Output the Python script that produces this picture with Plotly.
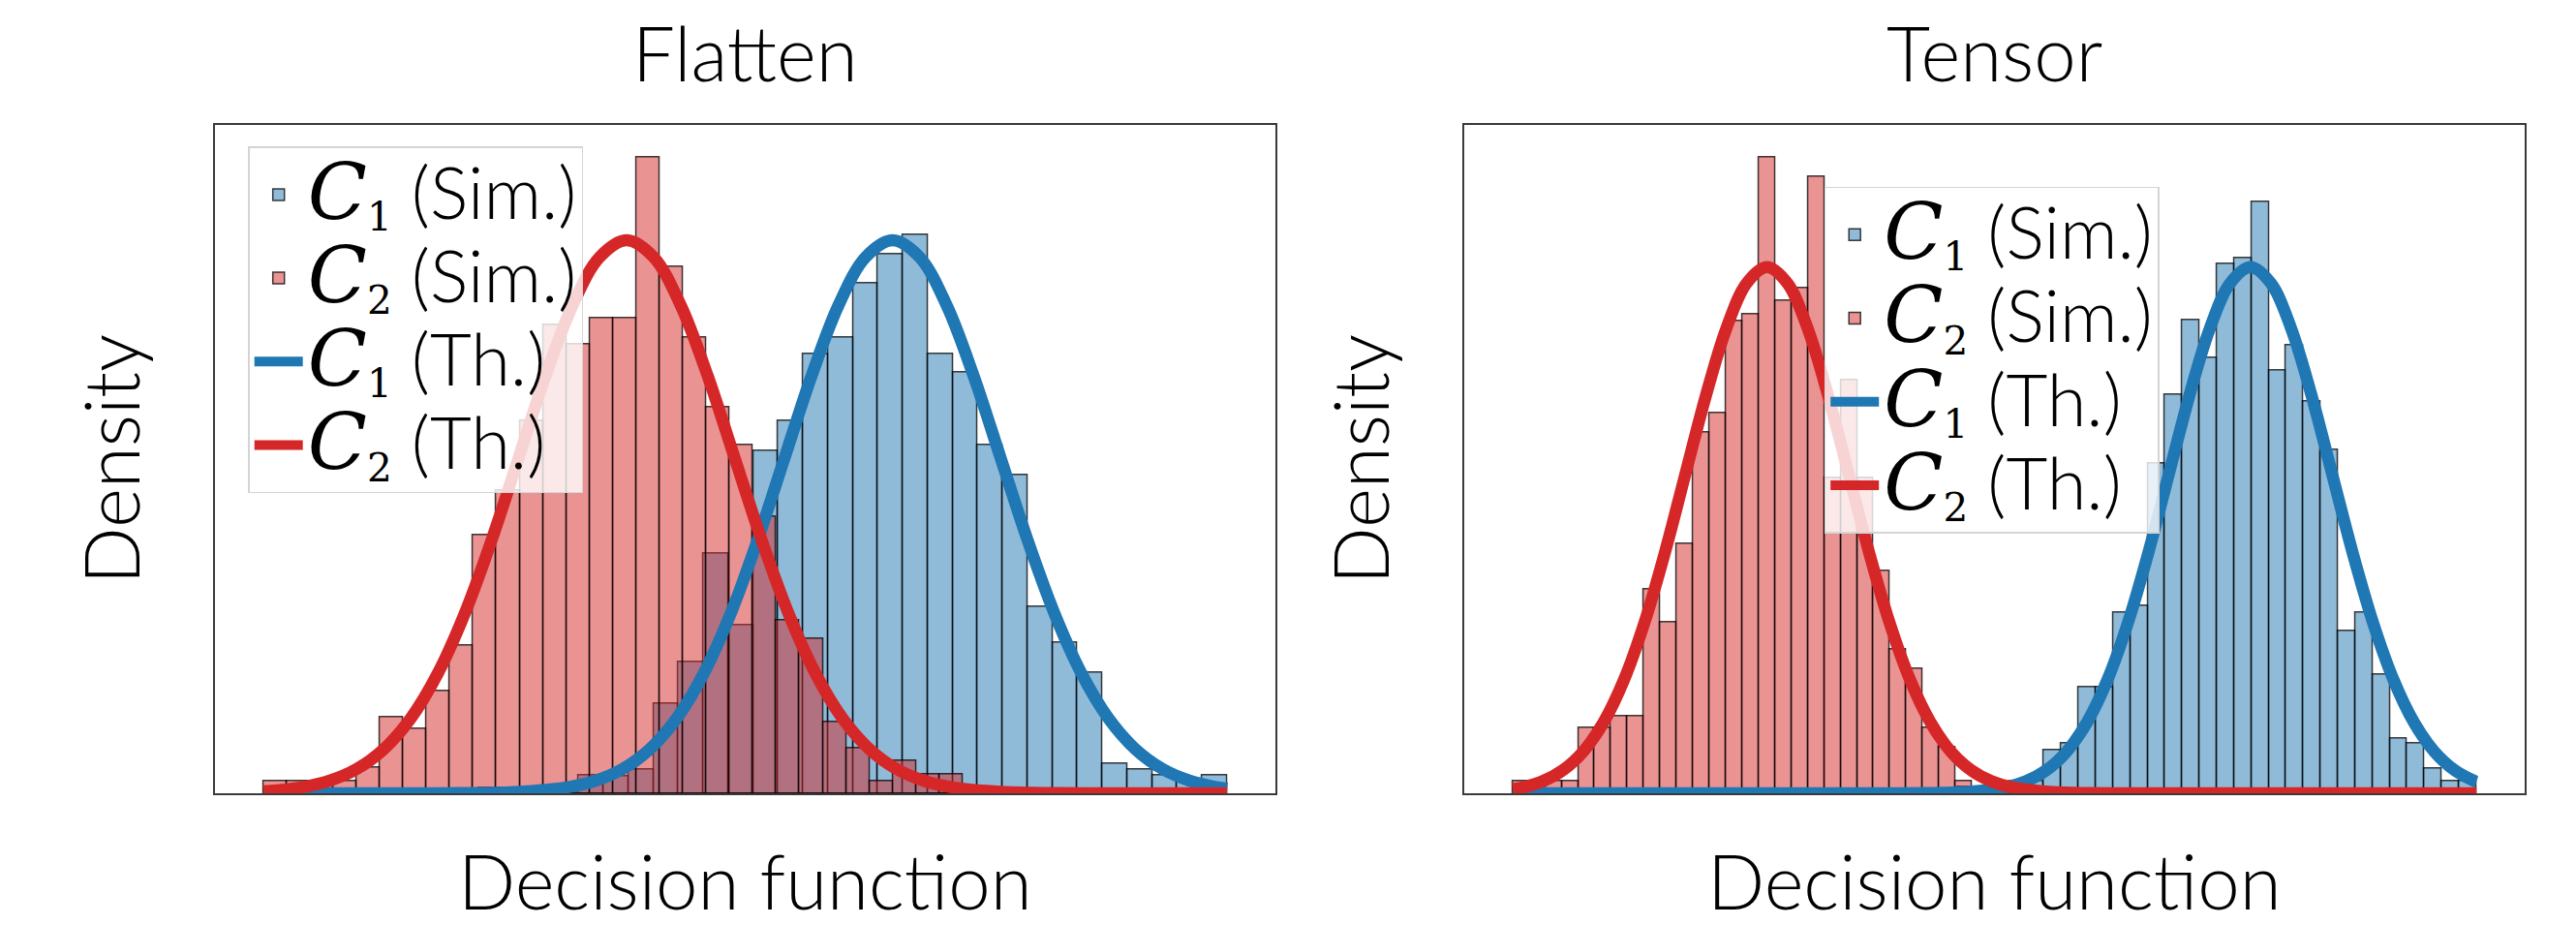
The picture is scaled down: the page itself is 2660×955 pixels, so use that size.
import plotly.graph_objects as go

# ---------------- data: "Flatten" panel ----------------
flat_c1_bin_start = -2.110
flat_c1_bin_width = 0.18755
flat_c1_density = [0.005, 0.0, 0.0, 0.005, 0.016, 0.015, 0.021, 0.080, 0.117, 0.213,
                   0.149, 0.304, 0.331, 0.390, 0.405, 0.453, 0.479, 0.496, 0.390, 0.374,
                   0.309, 0.283, 0.166, 0.134, 0.107, 0.026, 0.021, 0.016, 0.011, 0.016]
flat_c2_bin_start = -3.731
flat_c2_bin_width = 0.17531
flat_c2_density = [0.011, 0.011, 0.011, 0.011, 0.023, 0.068, 0.057, 0.091, 0.131, 0.229,
                   0.269, 0.331, 0.416, 0.399, 0.422, 0.422, 0.565, 0.468, 0.405, 0.343,
                   0.309, 0.246, 0.154, 0.137, 0.063, 0.040, 0.011, 0.029, 0.017, 0.017]

flat_c1_th_x = [-3.731, -3.060, -2.654, -2.248, -1.842, -1.436, -1.233, -1.030, -0.827, -0.624,
                -0.421, -0.218, -0.015, 0.188, 0.391, 0.594, 0.797, 1.000, 1.203, 1.406,
                1.609, 1.812, 2.015, 2.218, 2.421, 2.624, 2.827, 3.030, 3.233, 3.436, 3.5165]
flat_c1_th_y = [0.0, 0.0, 0.00002, 0.00016, 0.00107, 0.00546, 0.01120, 0.02159, 0.03909, 0.06649,
                0.10625, 0.15950, 0.22493, 0.29799, 0.37085, 0.43357, 0.47618, 0.49130, 0.47618, 0.43357,
                0.37085, 0.29799, 0.22493, 0.15950, 0.10625, 0.06649, 0.03909, 0.02159, 0.01120, 0.00546, 0.00404]
flat_c2_th_x = [-3.731, -3.639, -3.436, -3.233, -3.030, -2.827, -2.624, -2.421, -2.218, -2.015,
                -1.812, -1.609, -1.406, -1.203, -1.000, -0.797, -0.594, -0.391, -0.188, 0.015,
                0.218, 0.421, 0.624, 0.827, 1.030, 1.233, 1.436, 1.842, 2.248, 2.654, 3.060, 3.5165]
flat_c2_th_y = [0.00172, 0.00250, 0.00546, 0.01120, 0.02159, 0.03909, 0.06649, 0.10625, 0.15950, 0.22493,
                0.29799, 0.37085, 0.43357, 0.47618, 0.49130, 0.47618, 0.43357, 0.37085, 0.29799, 0.22493,
                0.15950, 0.10625, 0.06649, 0.03909, 0.02159, 0.01120, 0.00546, 0.00107, 0.00016, 0.00002, 0.0, 0.0]

# ---------------- data: "Tensor" panel ----------------
tens_c1_bin_start = -0.4235
tens_c1_bin_width = 0.14311
tens_c1_density = [0.007, 0.0, 0.007, 0.014, 0.014, 0.049, 0.056, 0.119, 0.119, 0.203,
                   0.210, 0.370, 0.447, 0.531, 0.489, 0.594, 0.601, 0.664, 0.475, 0.503,
                   0.440, 0.385, 0.182, 0.203, 0.133, 0.062, 0.056, 0.028, 0.014, 0.014]
tens_c2_bin_start = -4.1038
tens_c2_bin_width = 0.13574
tens_c2_density = [0.014, 0.0, 0.014, 0.014, 0.074, 0.074, 0.087, 0.087, 0.229, 0.192,
                   0.280, 0.405, 0.427, 0.530, 0.538, 0.714, 0.553, 0.567, 0.692, 0.354,
                   0.464, 0.354, 0.250, 0.162, 0.140, 0.074, 0.052, 0.014, 0.0, 0.014]

tens_c1_th_x = [-4.1038, -2.0530, -1.3775, -1.0398, -0.7020, -0.3643, -0.0265, 0.1424, 0.3113, 0.4801,
                0.6490, 0.8179, 0.9868, 1.1556, 1.3245, 1.4934, 1.6622, 1.8311, 2.0, 2.1689,
                2.3378, 2.5066, 2.6755, 2.8444, 3.0133, 3.1821, 3.3510, 3.5199, 3.6888, 3.8576, 3.8698]
tens_c1_th_y = [0.0, 0.0, 0.0, 0.00002, 0.00020, 0.00129, 0.00656, 0.01346, 0.02595, 0.04699,
                0.07993, 0.12773, 0.19174, 0.27039, 0.35822, 0.44581, 0.52120, 0.57243, 0.59060, 0.57243,
                0.52120, 0.44581, 0.35822, 0.27039, 0.19174, 0.12773, 0.07993, 0.04699, 0.02595, 0.01346, 0.01281]
tens_c2_th_x = [-4.1038, -4.0265, -3.8576, -3.6888, -3.5199, -3.3510, -3.1821, -3.0133, -2.8444, -2.6755,
                -2.5066, -2.3378, -2.1689, -2.0, -1.8311, -1.6622, -1.4934, -1.3245, -1.1556, -0.9868,
                -0.8179, -0.6490, -0.4801, -0.3113, -0.1424, 0.0265, 0.3643, 0.7020, 1.0398, 1.3775, 2.0530, 3.8698]
tens_c2_th_y = [0.00463, 0.00656, 0.01346, 0.02595, 0.04699, 0.07993, 0.12773, 0.19174, 0.27039, 0.35822,
                0.44581, 0.52120, 0.57243, 0.59060, 0.57243, 0.52120, 0.44581, 0.35822, 0.27039, 0.19174,
                0.12773, 0.07993, 0.04699, 0.02595, 0.01346, 0.00656, 0.00129, 0.00020, 0.00002, 0.0, 0.0, 0.0]

panel_titles = ["Flatten", "Tensor"]
x_label = "Decision function"
y_label = "Density"
legend_names = ["C|1|Sim.", "C|2|Sim.", "C|1|Th.", "C|2|Th."]

# ---------------- styling ----------------
BLUE = "#1f77b4"
RED = "#d62728"
FONT = "Lato"


def leg_label(spec):
    letter, sub, tag = spec.split("|")
    return ('<span style="font-family:\'DejaVu Serif\';font-size:80px"><i>%s</i></span>'
            '<span style="font-family:\'DejaVu Serif\';font-size:58px"><sub>%s</sub></span>'
            '<span style="font-size:74px"> (%s)</span>' % (letter, sub, tag))


def centers(start, width, n):
    return [start + (i + 0.5) * width for i in range(n)]


fig = go.Figure()

panels = [
    dict(xa="x", ya="y", leg="legend",
         c1=(flat_c1_bin_start, flat_c1_bin_width, flat_c1_density),
         c2=(flat_c2_bin_start, flat_c2_bin_width, flat_c2_density),
         t1=(flat_c1_th_x, flat_c1_th_y), t2=(flat_c2_th_x, flat_c2_th_y)),
    dict(xa="x2", ya="y2", leg="legend2",
         c1=(tens_c1_bin_start, tens_c1_bin_width, tens_c1_density),
         c2=(tens_c2_bin_start, tens_c2_bin_width, tens_c2_density),
         t1=(tens_c1_th_x, tens_c1_th_y), t2=(tens_c2_th_x, tens_c2_th_y)),
]

ranges = []
for p in panels:
    for key, col, name in (("c1", "rgba(31,119,180,0.5)", legend_names[0]),
                           ("c2", "rgba(214,39,40,0.5)", legend_names[1])):
        s, w, d = p[key]
        fig.add_trace(go.Bar(
            x=centers(s, w, len(d)), y=d, width=w, name=leg_label(name),
            marker=dict(color=col, line=dict(color="rgba(0,0,0,0.75)", width=1.5)),
            xaxis=p["xa"], yaxis=p["ya"], legend=p["leg"]))
    for key, col, name in (("t1", BLUE, legend_names[2]), ("t2", RED, legend_names[3])):
        tx, ty = p[key]
        fig.add_trace(go.Scatter(
            x=tx, y=ty, mode="lines", name=leg_label(name),
            line=dict(color=col, width=12.5, shape="spline", smoothing=1.0),
            xaxis=p["xa"], yaxis=p["ya"], legend=p["leg"]))
    lo = min(p["c1"][0], p["c2"][0])
    hi = max(p["c1"][0] + p["c1"][1] * len(p["c1"][2]), p["c2"][0] + p["c2"][1] * len(p["c2"][2]))
    pad = 0.05 * (hi - lo)
    ymax = 1.05 * max(max(p["c1"][2]), max(p["c2"][2]))
    ranges.append(([lo - pad, hi + pad], [0, ymax]))

W, H = 2660, 955
dom_left = [214.3 / W, 1309.0 / W]
dom_right = [1504.3 / W, 2599.0 / W]
dom_y = [(H - 811.0) / H, (H - 121.4) / H]

axis_common = dict(showgrid=False, zeroline=False, showticklabels=False, ticks="",
                   showline=True, mirror=True, linecolor="#3a3a3a", linewidth=1.5, fixedrange=True)

tfont = dict(family=FONT, size=78, color="black", weight=300)
lfont = dict(family=FONT, size=64, color="black", weight=300)

annotations = []
for dom, title in ((dom_left, panel_titles[0]), (dom_right, panel_titles[1])):
    cx = (dom[0] + dom[1]) / 2
    annotations.append(dict(text=title, x=cx, y=1 - 46 / H, xref="paper", yref="paper",
                            xanchor="center", yanchor="middle", showarrow=False, font=tfont))
    annotations.append(dict(text=x_label, x=cx, y=1 - 901 / H, xref="paper", yref="paper",
                            xanchor="center", yanchor="middle", showarrow=False, font=tfont))
    annotations.append(dict(text=y_label, x=(dom[0] * W - 108) / W, y=(dom_y[0] + dom_y[1]) / 2,
                            xref="paper", yref="paper", textangle=-90,
                            xanchor="center", yanchor="middle", showarrow=False, font=tfont))

legend_common = dict(xanchor="left", yanchor="top", bgcolor="rgba(255,255,255,0.8)",
                     bordercolor="#d4d4d4", borderwidth=1.5, font=lfont,
                     tracegroupgap=0, traceorder="normal", itemwidth=50)

fig.update_layout(
    width=W, height=H, margin=dict(l=0, r=0, t=0, b=0),
    paper_bgcolor="white", plot_bgcolor="white",
    barmode="overlay", bargap=0,
    xaxis=dict(domain=dom_left, range=ranges[0][0], anchor="y", **axis_common),
    yaxis=dict(domain=dom_y, range=ranges[0][1], anchor="x", **axis_common),
    xaxis2=dict(domain=dom_right, range=ranges[1][0], anchor="y2", **axis_common),
    yaxis2=dict(domain=dom_y, range=ranges[1][1], anchor="x2", **axis_common),
    legend=dict(x=248.2 / W, y=1 - 143.3 / H, **legend_common),
    legend2=dict(x=1875.7 / W, y=1 - 184.7 / H, **legend_common),
    annotations=annotations,
    showlegend=True,
)

fig.write_html("out.html")
